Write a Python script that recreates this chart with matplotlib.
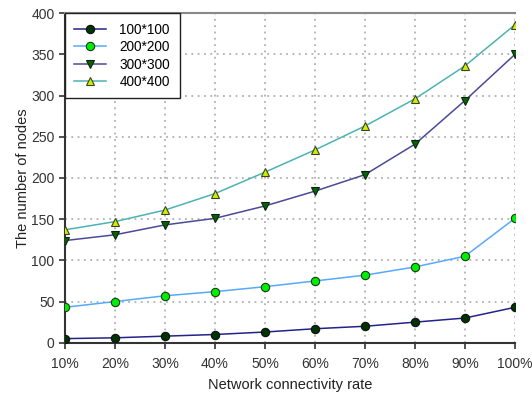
import matplotlib
matplotlib.use("Agg")
import matplotlib.pyplot as plt

plt.rcParams['font.family'] = ['Liberation Sans', 'DejaVu Sans']

rates = ["10%", "20%", "30%", "40%", "50%", "60%", "70%", "80%", "90%", "100%"]
nodes_100 = [5, 6, 8, 10, 13, 17, 20, 25, 30, 43]
nodes_200 = [43, 50, 57, 62, 68, 75, 82, 92, 105, 151]
nodes_300 = [124, 131, 143, 151, 166, 184, 204, 241, 294, 350]
nodes_400 = [137, 147, 161, 181, 207, 234, 263, 296, 336, 386]
series_names = ["100*100", "200*200", "300*300", "400*400"]

fig = plt.figure(figsize=(5.32, 3.99), dpi=100)
ax = fig.add_axes([0.122, 0.141, 0.846, 0.826])

x = list(range(len(rates)))
styles = [
    dict(color="#23238a", marker="o", mfc="#003300", mec="#101010"),
    dict(color="#55aaff", marker="o", mfc="#00ee00", mec="#1a3a1a"),
    dict(color="#4a4a96", marker="v", mfc="#006600", mec="#102010"),
    dict(color="#4cb3b3", marker="^", mfc="#ccee00", mec="#404020"),
]
for vals, name, st in zip([nodes_100, nodes_200, nodes_300, nodes_400], series_names, styles):
    ax.plot(x, vals, color=st["color"], lw=1.1, marker=st["marker"],
            markerfacecolor=st["mfc"], markeredgecolor=st["mec"],
            markeredgewidth=0.8, markersize=6, label=name, zorder=3)

ax.set_xlim(0, len(rates) - 1)
ax.set_ylim(0, 400)
ax.set_xticks(x)
ax.set_xticklabels(rates)
ax.set_yticks(range(0, 401, 50))
ax.tick_params(axis='both', labelsize=10, colors="#333333", length=4, width=1.2, direction='out')
ax.tick_params(axis='x', pad=6)

ax.grid(True, color="#b0b0b0", linestyle=(0, (1, 2.5)), linewidth=1.3)
ax.set_axisbelow(True)

for side in ["left", "bottom"]:
    ax.spines[side].set_color("#333333")
    ax.spines[side].set_linewidth(1.5)
ax.spines["top"].set_color("#888888")
ax.spines["top"].set_linewidth(1.5)
ax.spines["right"].set_visible(False)

ax.set_xlabel("Network connectivity rate", fontsize=10.5, color="#222222", labelpad=5)
ax.set_ylabel("The number of nodes", fontsize=10.5, color="#222222", labelpad=1)

leg = ax.legend(loc="upper left", fontsize=9.8, frameon=True, fancybox=False,
                edgecolor="#222222", framealpha=1, handlelength=2.3,
                handletextpad=1.0, borderaxespad=0, labelspacing=0.25,
                borderpad=0.7)
leg.get_frame().set_linewidth(1.0)

fig.savefig("out.png", dpi=100)
